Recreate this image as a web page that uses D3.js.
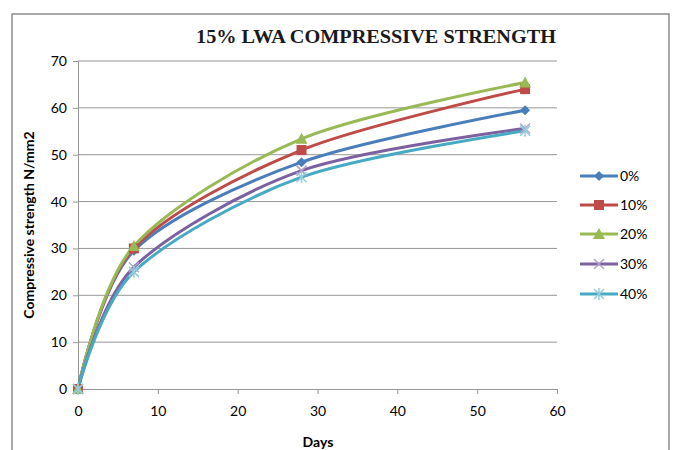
<!DOCTYPE html>
<html><head><meta charset="utf-8">
<script src="https://cdn.jsdelivr.net/npm/d3@7"></script>
<style>body{margin:0;background:#fff}svg{display:block}</style>
</head><body>
<svg id="c" width="674" height="450"></svg>
<script>
const days = [0, 7, 28, 56];
const seriesNames = ["0%", "10%", "20%", "30%", "40%"];
const s0 = [0, 29.5, 48.4, 59.5];
const s10 = [0, 30, 51, 64];
const s20 = [0, 30.5, 53.4, 65.4];
const s30 = [0, 26, 46.6, 55.6];
const s40 = [0, 25, 45.2, 55.1];
const xTicks = [0, 10, 20, 30, 40, 50, 60];
const yTicks = [0, 10, 20, 30, 40, 50, 60, 70];
const colors = ["#4A7EBB", "#BE4B48", "#98B954", "#7D60A0", "#46AAC5"];
const markers = ["diamond", "square", "triangle", "x", "star"];
const allSeries = [s0, s10, s20, s30, s40];

const svg = d3.select("#c");
svg.append("rect").attr("x", 12).attr("y", 14).attr("width", 657).attr("height", 450)
  .attr("fill", "#fff").attr("stroke", "#8c8c8c").attr("stroke-width", 1.5);

const x = d3.scaleLinear().domain([0, 60]).range([78, 557]);
const y = d3.scaleLinear().domain([0, 70]).range([389, 61]);

svg.append("text").attr("x", 376).attr("y", 43).attr("text-anchor", "middle")
  .style("font-family", "'Liberation Serif', 'DejaVu Serif', serif").attr("font-weight", "bold").attr("font-size", 19.5)
  .attr("textLength", 360).attr("lengthAdjust", "spacingAndGlyphs")
  .attr("fill", "#1a1a1a").text("15% LWA COMPRESSIVE STRENGTH");

// gridlines
svg.append("g").selectAll("line").data(yTicks.slice(1)).join("line")
  .attr("x1", x(0)).attr("x2", x(60)).attr("y1", d => y(d)).attr("y2", d => y(d))
  .attr("stroke", "#969696").attr("stroke-width", 1);

const fontTick = "Lato";
const yAx = svg.append("g").attr("transform", `translate(${x(0)},0)`)
  .call(d3.axisLeft(y).tickValues(yTicks).tickSize(5).tickPadding(6));
const xAx = svg.append("g").attr("transform", `translate(0,${y(0)})`)
  .call(d3.axisBottom(x).tickValues(xTicks).tickSize(5).tickPadding(12));
[yAx, xAx].forEach(g => {
  g.select(".domain").attr("stroke", "#969696");
  g.selectAll(".tick line").attr("stroke", "#969696");
  g.selectAll("text").attr("font-family", fontTick).attr("font-size", 14).attr("fill", "#000");
});

svg.append("text").attr("transform", "translate(34,225) rotate(-90)").attr("text-anchor", "middle")
  .attr("font-family", fontTick).attr("font-weight", "bold").attr("font-size", 14)
  .text("Compressive strength N/mm2");
svg.append("text").attr("x", 318).attr("y", 447).attr("text-anchor", "middle")
  .attr("font-family", fontTick).attr("font-weight", "bold").attr("font-size", 14).text("Days");

const line = d3.line().x((d, i) => x(days[i])).y(d => y(d)).curve(d3.curveCardinal.tension(0.1));

function drawMarker(g, type, cx, cy, color) {
  const s = 5;
  if (type === "diamond") {
    g.append("path").attr("d", `M${cx},${cy - s}L${cx + s},${cy}L${cx},${cy + s}L${cx - s},${cy}Z`).attr("fill", color);
  } else if (type === "square") {
    g.append("rect").attr("x", cx - s).attr("y", cy - s).attr("width", 2 * s).attr("height", 2 * s).attr("fill", color);
  } else if (type === "triangle") {
    g.append("path").attr("d", `M${cx},${cy - s - 1}L${cx + s + 1},${cy + s}L${cx - s - 1},${cy + s}Z`).attr("fill", color);
  } else if (type === "x") {
    g.append("path").attr("d", `M${cx - s},${cy - s}L${cx + s},${cy + s}M${cx - s},${cy + s}L${cx + s},${cy - s}`)
      .attr("stroke", "#B3A2C7").attr("stroke-width", 1.5);
  } else if (type === "star") {
    g.append("path").attr("d", `M${cx - s},${cy - s}L${cx + s},${cy + s}M${cx - s},${cy + s}L${cx + s},${cy - s}M${cx},${cy - s - 1}L${cx},${cy + s + 1}`)
      .attr("stroke", "#93CDDD").attr("stroke-width", 1.5);
  }
}

allSeries.forEach((s, k) => {
  const g = svg.append("g");
  g.append("path").datum(s).attr("d", line).attr("fill", "none")
    .attr("stroke", colors[k]).attr("stroke-width", 3);
});
allSeries.forEach((s, k) => {
  const g = svg.append("g");
  s.forEach((v, i) => drawMarker(g, markers[k], x(days[i]), y(v), colors[k]));
});

// legend
const legY = [176, 205, 234, 264, 294];
seriesNames.forEach((n, k) => {
  const g = svg.append("g");
  g.append("line").attr("x1", 580).attr("x2", 618).attr("y1", legY[k]).attr("y2", legY[k])
    .attr("stroke", colors[k]).attr("stroke-width", 3);
  drawMarker(g, markers[k], 599, legY[k], colors[k]);
  g.append("text").attr("x", 620).attr("y", legY[k] + 5).attr("font-family", fontTick)
    .attr("font-size", 14).text(n);
});
</script>
</body></html>
